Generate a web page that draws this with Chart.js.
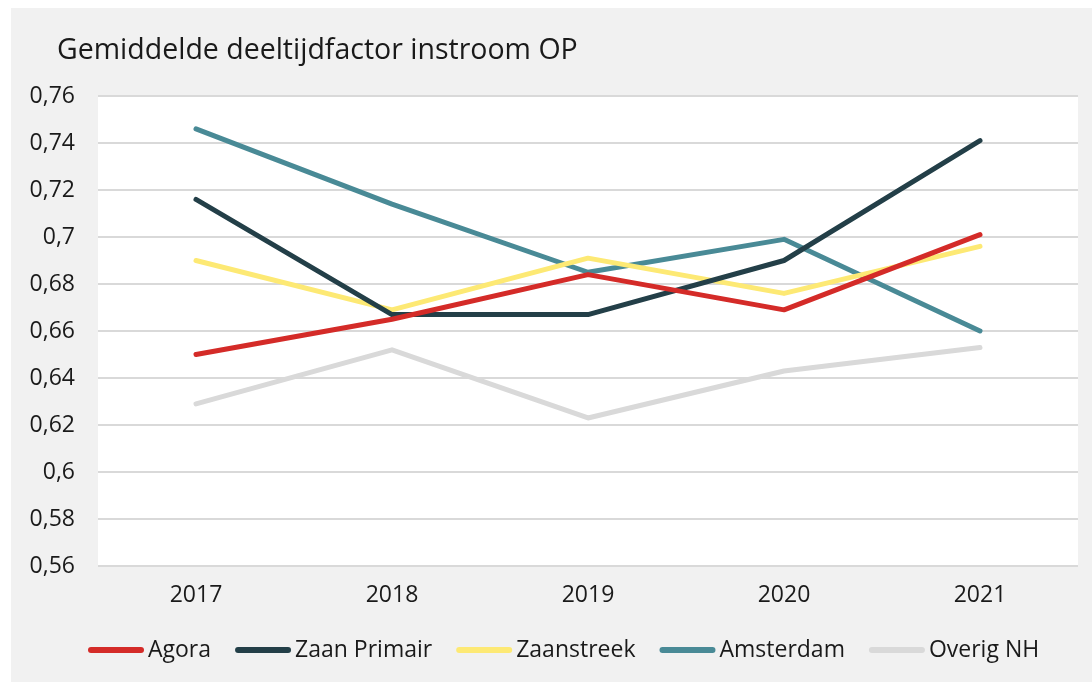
<!DOCTYPE html>
<html><head><meta charset="utf-8">
<script src="https://cdn.jsdelivr.net/npm/chart.js@4"></script>
<style>html,body{margin:0;padding:0;background:#fff;}#c{display:block;}</style>
</head><body>
<div style="width:1092px;height:682px"><canvas id="c" width="1092" height="682"></canvas></div>
<script>
const categories = ['2017','2018','2019','2020','2021'];
const agora = [0.650, 0.665, 0.684, 0.669, 0.701];
const zaanPrimair = [0.716, 0.667, 0.667, 0.690, 0.741];
const zaanstreek = [0.690, 0.669, 0.691, 0.676, 0.696];
const amsterdam = [0.746, 0.714, 0.685, 0.699, 0.660];
const overigNH = [0.629, 0.652, 0.623, 0.643, 0.653];
const seriesNames = ['Agora','Zaan Primair','Zaanstreek','Amsterdam','Overig NH'];
const colors = ['#d42b28','#233f48','#fde974','#498a96','#d9d9d9'];
const titleText = 'Gemiddelde deeltijdfactor instroom OP';
const FONT = '"Open Sans", "Noto Sans", sans-serif';

const bgPlugin = {
  id:'bg',
  beforeDraw(chart){
    const ctx = chart.ctx, a = chart.chartArea;
    ctx.save();
    ctx.fillStyle = '#fff'; ctx.fillRect(0,0,chart.width,chart.height);
    ctx.fillStyle = '#f1f1f1'; ctx.fillRect(11,8,chart.width-11,chart.height-8);
    ctx.fillStyle = '#fff'; ctx.fillRect(a.left,a.top,a.right-a.left,a.bottom-a.top);
    ctx.restore();
  },
  afterDraw(chart){
    const ctx = chart.ctx;
    ctx.save();
    ctx.fillStyle = '#1a1a1a';
    ctx.font = '28.5px ' + FONT;
    ctx.textBaseline = 'alphabetic';
    ctx.textAlign = 'left';
    ctx.fillText(titleText, 57, 59);
    ctx.font = '23px ' + FONT;
    let x = 88; const y = 650;
    chart.data.datasets.forEach((ds)=>{
      ctx.strokeStyle = ds.borderColor; ctx.lineWidth = 6; ctx.lineCap = 'round';
      ctx.beginPath(); ctx.moveTo(x+3,y); ctx.lineTo(x+53,y); ctx.stroke();
      x += 60;
      ctx.fillStyle = '#1a1a1a';
      ctx.fillText(ds.label, x, 657);
      x += ctx.measureText(ds.label).width + 24;
    });
    ctx.restore();
  }
};

const datasets = [agora, zaanPrimair, zaanstreek, amsterdam, overigNH].map((d,i)=>({
  label: seriesNames[i], data: d, borderColor: colors[i], backgroundColor: colors[i],
  borderWidth: 5, pointRadius: 0, tension: 0, borderCapStyle:'round', borderJoinStyle:'round'
}));

new Chart(document.getElementById('c'), {
  type:'line',
  data:{ labels: categories, datasets },
  plugins:[bgPlugin],
  options:{
    responsive:false, animation:false,
    layout:{ padding:{ top:96, right:14, bottom:0, left:0 } },
    plugins:{ legend:{display:false}, title:{display:false}, tooltip:{enabled:false} },
    scales:{
      x:{
        offset:true,
        grid:{display:false, drawTicks:false},
        border:{display:false},
        ticks:{ color:'#1a1a1a', font:{family:FONT, size:23}, padding:16, maxRotation:0 },
        afterFit(s){ s.height = 116; }
      },
      y:{
        min:0.56, max:0.76,
        grid:{ color:'#d9d9d9', lineWidth:2, drawTicks:false },
        border:{display:false},
        ticks:{ stepSize:0.02, color:'#1a1a1a', font:{family:FONT, size:23}, padding:23,
          callback:(v)=> String(Math.round(v*100)/100).replace('.',',') },
        afterFit(s){ s.width = 98; }
      }
    }
  }
});
</script>
</body></html>
